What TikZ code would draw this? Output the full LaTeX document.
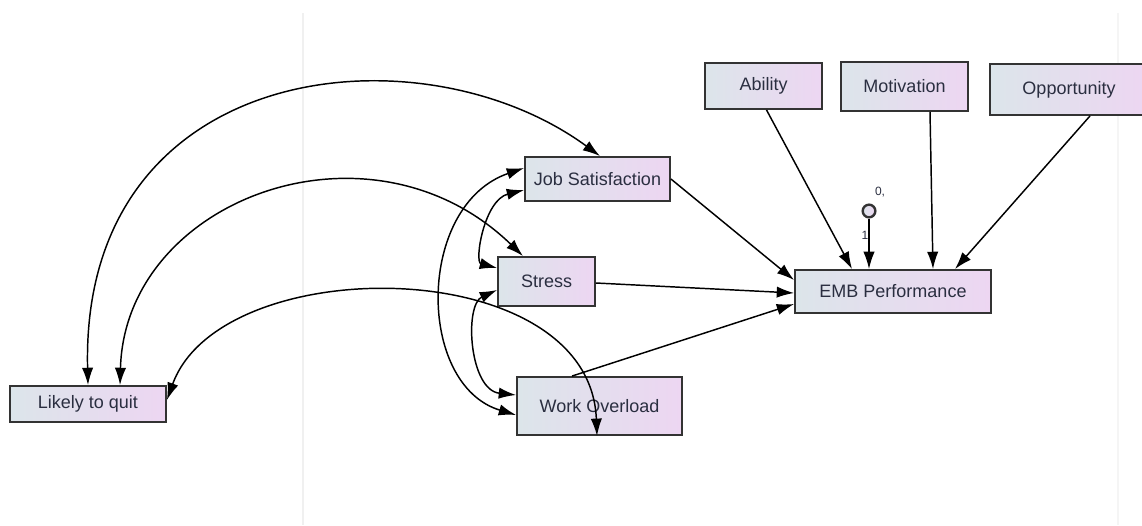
\documentclass[tikz,border=0pt]{standalone}
\usepackage{fontspec}
\setmainfont{Liberation Sans}
\usetikzlibrary{arrows.meta,calc}

\definecolor{boxleft}{HTML}{DCE5EA}
\definecolor{boxright}{HTML}{EDD6F2}
\definecolor{boxtext}{HTML}{2A2E40}
\definecolor{boxline}{HTML}{333333}

\tikzset{
  var/.style={draw=boxline, line width=1.4pt, left color=boxleft, right color=boxright,
    text=boxtext, font=\fontsize{13.5}{16}\selectfont, inner sep=0pt},
  err/.style={circle, draw=boxline, line width=1.8pt, left color=boxleft, right color=boxright,
    minimum size=9.5pt, inner sep=0pt},
  small/.style={text=boxtext, font=\fontsize{9}{10}\selectfont, inner sep=0pt},
  path/.style={line width=1.1pt, -{Latex[length=13pt,width=8.5pt]}},
  cov/.style={line width=1.1pt, {Latex[length=13pt,width=8.5pt]}-{Latex[length=13pt,width=8.5pt]}},
}

\begin{document}
\begin{tikzpicture}[x=0.75pt,y=-0.75pt]
\useasboundingbox (0,0) rectangle (1142,525);
\draw[black!6, line width=0.8pt] (303,13) -- (303,525);
\draw[black!4, line width=0.8pt] (1118,13) -- (1118,525);

\path (763.5,86) node[var, minimum width=87.75pt, minimum height=34.5pt] (ability) {Ability}
      (904.5,86.5) node[var, minimum width=95.25pt, minimum height=36.75pt] (motivation) {Motivation}
      (1069,89.5) node[var, minimum width=118.5pt, minimum height=38.25pt] (opportunity) {Opportunity}
      (597.5,179) node[var, minimum width=108.75pt, minimum height=33pt] (jobsat) {Job Satisfaction}
      (546.5,281.5) node[var, minimum width=72.75pt, minimum height=36.75pt] (stress) {Stress}
      (599.5,406) node[var, minimum width=123.75pt, minimum height=43.5pt] (overload) {Work Overload}
      (893,291.5) node[var, minimum width=147pt, minimum height=32.25pt] (emb) {EMB Performance}
      (88,404) node[var, minimum width=117pt, minimum height=27pt] (quit) {Likely to quit}
      (869,211) node[err] (e1) {}
      (880,192) node[small] (e1var) {0,}
      (865,235) node[small] (e1wt) {1}
      ;

% paths into EMB Performance
\draw[path] ($(ability.south)+(3,0)$) -- ($(emb.north)+(-41,0)$);
\draw[path] ($(motivation.south)+(25.5,0)$) -- ($(emb.north)+(40,0)$);
\draw[path] ($(opportunity.south)+(21,0)$) -- ($(emb.north)+(62,0)$);
\draw[path] (e1) -- (e1 |- emb.north);
\draw[path] (jobsat.east) -- ($(emb.west)+(0,-11.5)$);
\draw[path] ($(stress.east)+(0,1.5)$) -- ($(emb.west)+(0,1.5)$);
\draw[path] ($(overload.north)+(-27.5,0)$) -- ($(emb.west)+(0,12.5)$);

% covariances
\draw[cov] ($(jobsat.west)+(0,11)$) .. controls +(-40,10) and +(-23,-6) .. ($(stress.west)+(0,-13.5)$);
\draw[cov] ($(stress.west)+(0,8.5)$) .. controls +(-33,15) and +(-47,-5) .. ($(overload.west)+(0,-11)$);
\draw[cov] ($(jobsat.west)+(0,-11)$) .. controls +(-108,37) and +(-100,-30) .. ($(overload.west)+(0,9)$);
\draw[cov] (quit.north) .. controls +(-8,-326) and +(-180,-132) .. ($(jobsat.north)+(2.5,0)$);
\draw[cov] ($(quit.north)+(32,0)$) .. controls +(5,-186) and +(-153,-148) .. ($(stress.north)+(-23.5,0)$);
\draw[cov] ($(quit.east)+(0,-4)$) .. controls +(54,-150) and +(-7,-184) .. ($(overload.south)+(-2.5,0)$);
\end{tikzpicture}
\end{document}
